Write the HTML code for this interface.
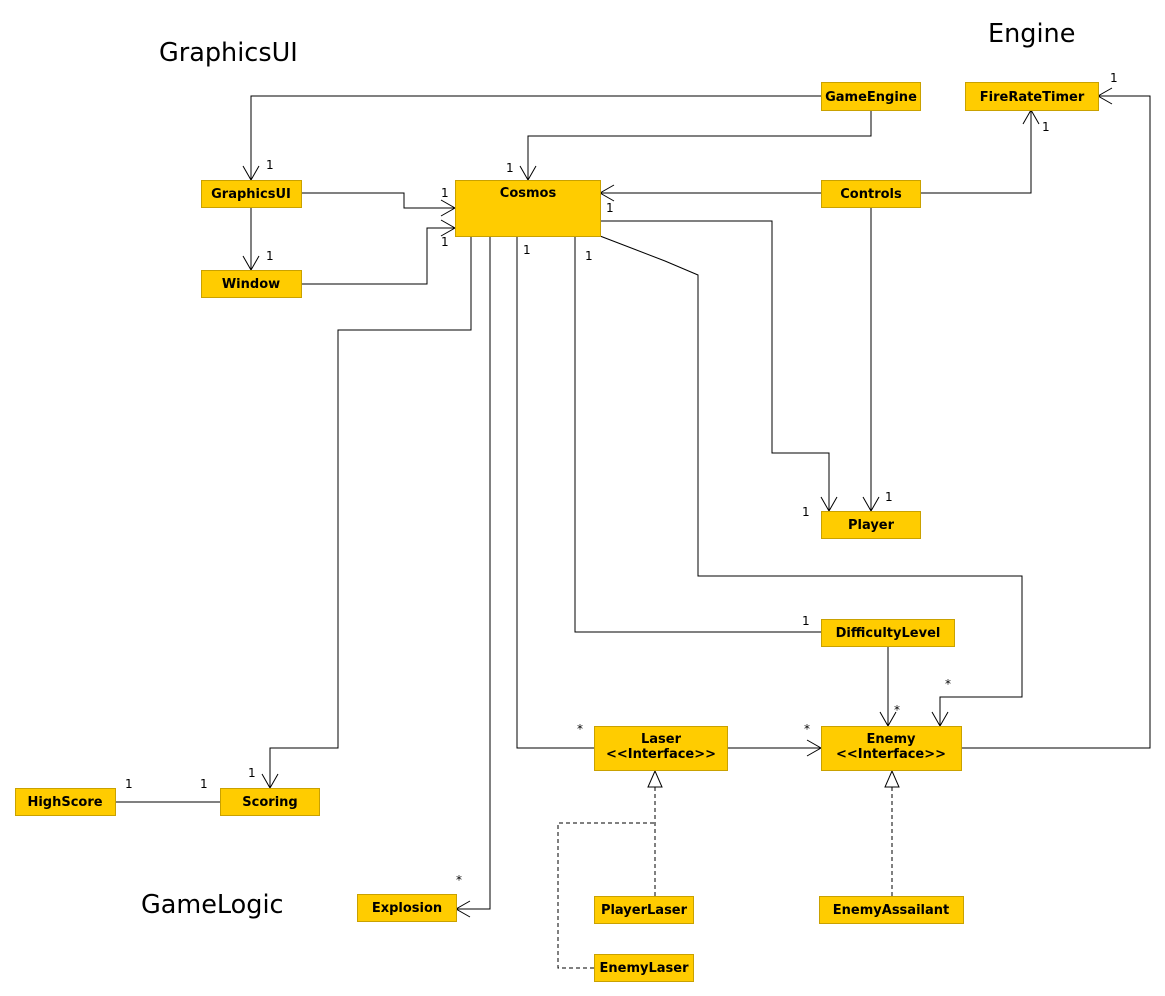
<!DOCTYPE html>
<html><head><meta charset="utf-8"><style>
html,body{margin:0;padding:0;background:#fff;}
svg{display:block;}
.b{fill:#ffcc00;stroke:#c9a100;stroke-width:1;}
.t{font-family:"DejaVu Sans","Liberation Sans",sans-serif;font-weight:bold;font-size:13px;fill:#000;text-anchor:middle;}
.l{font-family:"DejaVu Sans","Liberation Sans",sans-serif;font-size:12px;fill:#000;}
.h{font-family:"DejaVu Sans","Liberation Sans",sans-serif;font-size:25.5px;fill:#000;}
.c{fill:none;stroke:#000;stroke-width:1;}
.d{fill:none;stroke:#000;stroke-width:1;stroke-dasharray:4,3;}
</style></head><body>
<svg width="1165" height="996" viewBox="0 0 1165 996" xmlns="http://www.w3.org/2000/svg">
<text class="h" x="159" y="61">GraphicsUI</text>
<text class="h" x="988" y="42">Engine</text>
<text class="h" x="141" y="913">GameLogic</text>

<polyline class="c" points="821,96 251,96 251,180"/>
<polyline class="c" points="243,166 251,180 259,166"/>
<polyline class="c" points="871,110 871,136 528,136 528,180"/>
<polyline class="c" points="520,166 528,180 536,166"/>
<polyline class="c" points="301,193 404,193 404,208 455,208"/>
<polyline class="c" points="441,200 455,208 441,216"/>
<polyline class="c" points="251,207 251,270"/>
<polyline class="c" points="243,256 251,270 259,256"/>
<polyline class="c" points="301,284 427,284 427,228 455,228"/>
<polyline class="c" points="441,220 455,228 441,236"/>
<polyline class="c" points="821,193 600,193"/>
<polyline class="c" points="614,185 600,193 614,201"/>
<polyline class="c" points="920,193 1031,193 1031,110"/>
<polyline class="c" points="1023,124 1031,110 1039,124"/>
<polyline class="c" points="871,207 871,511"/>
<polyline class="c" points="863,497 871,511 879,497"/>
<polyline class="c" points="600,221 772,221 772,453 829,453 829,511"/>
<polyline class="c" points="821,497 829,511 837,497"/>
<polyline class="c" points="600,236 665,261 698,275 698,576 1022,576 1022,697 940,697 940,726"/>
<polyline class="c" points="932,712 940,726 948,712"/>
<polyline class="c" points="575,236 575,632 821,632"/>
<polyline class="c" points="888,646 888,726"/>
<polyline class="c" points="880,712 888,726 896,712"/>
<polyline class="c" points="517,236 517,748 594,748"/>
<polyline class="c" points="727,748 821,748"/>
<polyline class="c" points="807,740 821,748 807,756"/>
<polyline class="c" points="961,748 1150,748 1150,96 1098,96"/>
<polyline class="c" points="1112,88 1098,96 1112,104"/>
<polyline class="c" points="471,236 471,330 338,330 338,748 270,748 270,788"/>
<polyline class="c" points="262,774 270,788 278,774"/>
<polyline class="c" points="490,236 490,909 456,909"/>
<polyline class="c" points="470,901 456,909 470,917"/>
<polyline class="c" points="115,802 220,802"/>
<polyline class="d" points="655,896 655,787"/>
<polyline class="d" points="594,968 558,968 558,823 655,823"/>
<polygon points="655,771 648,787 662,787" fill="#fff" stroke="#000"/>
<polyline class="d" points="892,896 892,787"/>
<polygon points="892,771 885,787 899,787" fill="#fff" stroke="#000"/>

<text class="l" x="266" y="169">1</text>
<text class="l" x="506" y="172">1</text>
<text class="l" x="441" y="197">1</text>
<text class="l" x="266" y="260">1</text>
<text class="l" x="441" y="246">1</text>
<text class="l" x="606" y="212">1</text>
<text class="l" x="1042" y="131">1</text>
<text class="l" x="885" y="501">1</text>
<text class="l" x="802" y="516">1</text>
<text class="l" x="945" y="688">*</text>
<text class="l" x="523" y="254">1</text>
<text class="l" x="585" y="260">1</text>
<text class="l" x="802" y="625">1</text>
<text class="l" x="894" y="714">*</text>
<text class="l" x="577" y="733">*</text>
<text class="l" x="804" y="733">*</text>
<text class="l" x="1110" y="82">1</text>
<text class="l" x="248" y="777">1</text>
<text class="l" x="456" y="884">*</text>
<text class="l" x="125" y="788">1</text>
<text class="l" x="200" y="788">1</text>

<rect class="b" x="821.5" y="82.5" width="99" height="28"/><text class="t" x="871" y="101">GameEngine</text>
<rect class="b" x="965.5" y="82.5" width="133" height="28"/><text class="t" x="1032" y="101">FireRateTimer</text>
<rect class="b" x="201.5" y="180.5" width="100" height="27"/><text class="t" x="251" y="198">GraphicsUI</text>
<rect class="b" x="455.5" y="180.5" width="145" height="56"/><text class="t" x="528" y="197">Cosmos</text>
<rect class="b" x="821.5" y="180.5" width="99" height="27"/><text class="t" x="871" y="198">Controls</text>
<rect class="b" x="201.5" y="270.5" width="100" height="27"/><text class="t" x="251" y="288">Window</text>
<rect class="b" x="821.5" y="511.5" width="99" height="27"/><text class="t" x="871" y="529">Player</text>
<rect class="b" x="821.5" y="619.5" width="133" height="27"/><text class="t" x="888" y="637">DifficultyLevel</text>
<rect class="b" x="594.5" y="726.5" width="133" height="44"/><text class="t" x="661" y="743">Laser</text><text class="t" x="661" y="758">&lt;&lt;Interface&gt;&gt;</text>
<rect class="b" x="821.5" y="726.5" width="140" height="44"/><text class="t" x="891" y="743">Enemy</text><text class="t" x="891" y="758">&lt;&lt;Interface&gt;&gt;</text>
<rect class="b" x="15.5" y="788.5" width="100" height="27"/><text class="t" x="65" y="806">HighScore</text>
<rect class="b" x="220.5" y="788.5" width="99" height="27"/><text class="t" x="270" y="806">Scoring</text>
<rect class="b" x="357.5" y="894.5" width="99" height="27"/><text class="t" x="407" y="912">Explosion</text>
<rect class="b" x="594.5" y="896.5" width="99" height="27"/><text class="t" x="644" y="914">PlayerLaser</text>
<rect class="b" x="819.5" y="896.5" width="144" height="27"/><text class="t" x="891" y="914">EnemyAssailant</text>
<rect class="b" x="594.5" y="954.5" width="99" height="27"/><text class="t" x="644" y="972">EnemyLaser</text>
</svg>
</body></html>
